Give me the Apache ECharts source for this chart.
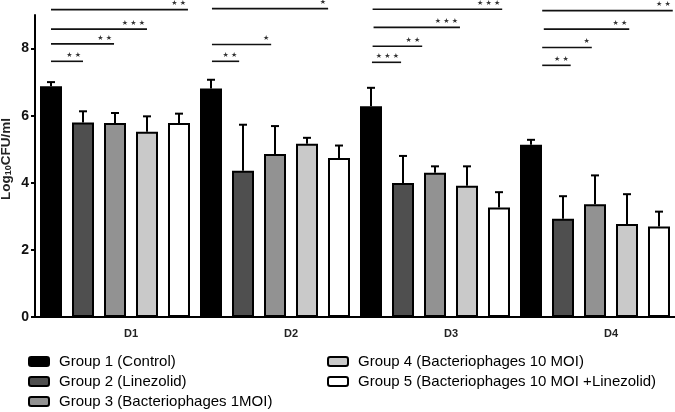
<!DOCTYPE html>
<html>
<head>
<meta charset="utf-8">
<script src="https://cdn.jsdelivr.net/npm/echarts@6/dist/echarts.min.js"></script>
<style>html,body{margin:0;padding:0;background:#fff}#c{width:675px;height:412px}</style>
</head>
<body>
<div id="c"></div>
<script>
const categories = ['D1', 'D2', 'D3', 'D4'];
const groupNames = ['Group 1 (Control)', 'Group 2 (Linezolid)', 'Group 3 (Bacteriophages 1MOI)', 'Group 4 (Bacteriophages 10 MOI)', 'Group 5 (Bacteriophages 10 MOI +Linezolid)'];
const groupColors = ['#000000', '#4f4f4f', '#929292', '#c9c9c9', '#ffffff'];

const g1Mean = [6.88, 6.81, 6.28, 5.13];
const g2Mean = [5.80, 4.36, 3.99, 2.93];
const g3Mean = [5.78, 4.86, 4.30, 3.36];
const g4Mean = [5.52, 5.16, 3.91, 2.77];
const g5Mean = [5.78, 4.74, 3.26, 2.70];

const g1Err = [0.12, 0.26, 0.55, 0.15];
const g2Err = [0.33, 1.37, 0.81, 0.67];
const g3Err = [0.30, 0.83, 0.19, 0.86];
const g4Err = [0.46, 0.18, 0.58, 0.89];
const g5Err = [0.28, 0.37, 0.46, 0.44];

const yTicks = [0, 2, 4, 6, 8];

// significance brackets, x in bar-slot units (each bar slot = 1, 5 per day)
const bracketStart = [0.5, 0.5, 0.5, 0.5, 5.53, 5.53, 5.53, 10.53, 10.55, 10.58, 10.55, 15.85, 15.85, 15.9, 15.85];
const bracketEnd   = [1.5, 2.47, 3.5, 4.78, 6.38, 7.38, 9.16, 11.44, 12.1, 13.28, 14.6, 16.74, 17.4, 18.57, 19.93];
const bracketY     = [7.62, 8.14, 8.58, 9.16, 7.62, 8.12, 9.19, 7.59, 8.07, 8.63, 9.17, 7.5, 8.03, 8.58, 9.13];
const bracketLabel = ['**', '**', '***', '**', '**', '*', '*', '***', '**', '***', '***', '**', '*', '**', '**'];

const means = [g1Mean, g2Mean, g3Mean, g4Mean, g5Mean];
const errs = [g1Err, g2Err, g3Err, g4Err, g5Err];
const FONT = 'Liberation Sans, Arial, sans-serif';

const barSeries = means.map((m, i) => ({
  type: 'bar',
  name: groupNames[i],
  data: m,
  xAxisIndex: 0,
  barWidth: 22,
  barGap: '45.45%',
  itemStyle: { color: groupColors[i], borderColor: '#000', borderWidth: 2 },
  z: 2
}));

const errData = [];
errs.forEach((e, i) => {
  e.forEach((v, g) => {
    errData.push([g * 5 + i + 0.5, means[i][g], means[i][g] + v]);
  });
});

const errSeries = {
  type: 'custom',
  xAxisIndex: 1,
  z: 1,
  silent: true,
  encode: { x: 0, y: [1, 2] },
  data: errData,
  renderItem: function (params, api) {
    const x = api.value(0);
    const p0 = api.coord([x, api.value(1)]);
    const p1 = api.coord([x, api.value(2)]);
    const hw = 4;
    return {
      type: 'group',
      children: [
        { type: 'line', shape: { x1: p0[0], y1: p0[1], x2: p1[0], y2: p1[1] }, style: { stroke: '#000', lineWidth: 2 } },
        { type: 'line', shape: { x1: p1[0] - hw, y1: p1[1], x2: p1[0] + hw, y2: p1[1] }, style: { stroke: '#000', lineWidth: 2 } }
      ]
    };
  }
};

const brData = bracketStart.map((s, k) => [s, bracketEnd[k], bracketY[k], k]);
const bracketSeries = {
  type: 'custom',
  xAxisIndex: 1,
  z: 5,
  silent: true,
  clip: false,
  encode: { x: [0, 1], y: 2 },
  data: brData,
  renderItem: function (params, api) {
    const y = api.value(2);
    const a = api.coord([api.value(0), y]);
    const b = api.coord([api.value(1), y]);
    const lab = bracketLabel[api.value(3)].split('').map(() => '\u2605').join(' ');
    return {
      type: 'group',
      children: [
        { type: 'line', shape: { x1: a[0], y1: a[1], x2: b[0], y2: b[1] }, style: { stroke: '#111', lineWidth: 1.6 } },
        { type: 'text', x: b[0] - 2, y: a[1] - 6, style: { text: lab, fill: '#333', font: '7px DejaVu Sans', textAlign: 'right', textVerticalAlign: 'middle' } }
      ]
    };
  }
};

const legendCommon = {
  orient: 'vertical', padding: 0, top: 354, height: 58,
  itemWidth: 20, itemHeight: 9, itemGap: 5,
  textStyle: { fontFamily: FONT, fontSize: 15, lineHeight: 15, color: '#000', padding: [0, 0, 0, 5] },
  selectedMode: false
};

const chart = echarts.init(document.getElementById('c'), null, { renderer: 'canvas' });
chart.setOption({
  animation: false,
  backgroundColor: '#fff',
  grid: { left: 35, right: 0, top: 15, bottom: 95, containLabel: false, outerBoundsMode: 'none' },
  legend: [
    Object.assign({ data: groupNames.slice(0, 3), left: 28 }, legendCommon),
    Object.assign({ data: groupNames.slice(3), left: 327 }, legendCommon)
  ],
  xAxis: [
    {
      type: 'category',
      data: categories,
      axisLine: { lineStyle: { color: '#000', width: 2 } },
      axisTick: { show: false },
      axisLabel: { fontFamily: FONT, fontWeight: 'bold', fontSize: 11, color: '#222', margin: 11, padding: [0, 0, 0, 32] }
    },
    { type: 'value', min: 0, max: 20, show: false }
  ],
  yAxis: {
    type: 'value',
    min: 0, max: 9, interval: 2,
    name: '{a|Log}{s|10}{a|CFU/ml}',
    nameLocation: 'middle',
    nameGap: 22,
    nameMoveOverlap: false,
    nameTextStyle: {
      padding: [0, 0, 0, 14],
      rich: {
        a: { fontFamily: FONT, fontSize: 13.5, fontWeight: 'bold', color: '#222' },
        s: { fontFamily: FONT, fontSize: 9, fontWeight: 'bold', color: '#222', verticalAlign: 'bottom', padding: [5, 0, 0, 0] }
      }
    },
    axisLine: { show: true, lineStyle: { color: '#000', width: 2 } },
    axisTick: { show: true, length: 4, lineStyle: { color: '#000', width: 2 } },
    splitLine: { show: false },
    axisLabel: {
      fontFamily: FONT, fontWeight: 'bold', fontSize: 14, color: '#111', margin: 6,
      showMaxLabel: false,
      formatter: v => (yTicks.indexOf(v) >= 0 ? String(v) : '')
    }
  },
  series: [errSeries].concat(barSeries).concat([bracketSeries])
});
</script>
</body>
</html>
